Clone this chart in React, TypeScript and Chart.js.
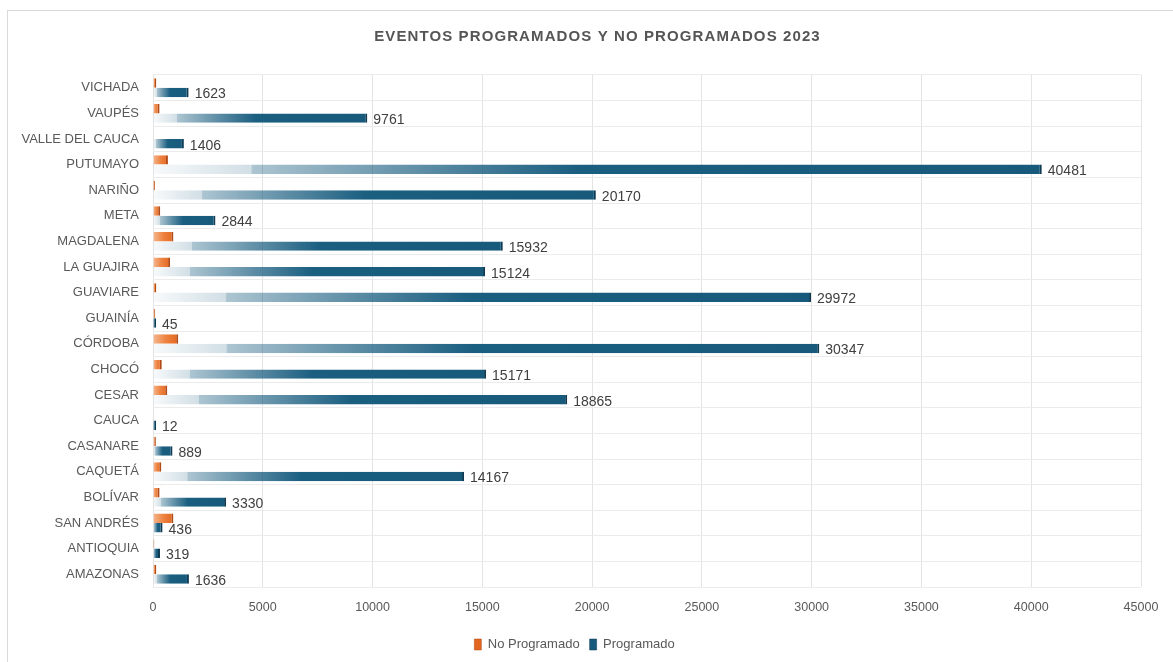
import React, { useEffect, useRef } from "react";
import { Chart, registerables } from "chart.js";

Chart.register(...registerables);

const chartTitle = "EVENTOS PROGRAMADOS Y NO PROGRAMADOS 2023";

const categories = [
  "VICHADA",
  "VAUPÉS",
  "VALLE DEL CAUCA",
  "PUTUMAYO",
  "NARIÑO",
  "META",
  "MAGDALENA",
  "LA GUAJIRA",
  "GUAVIARE",
  "GUAINÍA",
  "CÓRDOBA",
  "CHOCÓ",
  "CESAR",
  "CAUCA",
  "CASANARE",
  "CAQUETÁ",
  "BOLÍVAR",
  "SAN ANDRÉS",
  "ANTIOQUIA",
  "AMAZONAS",
];

const noProgramado = [150, 300, 0, 680, 90, 330, 930, 780, 150, 100, 1150, 400, 650, 0, 130, 380, 300, 930, 60, 150];

const programado = [1623, 9761, 1406, 40481, 20170, 2844, 15932, 15124, 29972, 45, 30347, 15171, 18865, 12, 889, 14167, 3330, 436, 319, 1636];

const xTicks = { min: 0, max: 45000, step: 5000 };

const FONT = "'Liberation Sans', Arial, sans-serif";
const GREY = "#595959";

function barGradient(ctx: any, stops: [number, string][]) {
  const chart = ctx.chart;
  const xScale = chart.scales && chart.scales.x;
  if (!xScale || !chart.chartArea || ctx.type !== "data") return stops[stops.length - 1][1];
  const v = ctx.parsed ? ctx.parsed.x : ctx.raw;
  const x0 = xScale.getPixelForValue(0);
  const x1 = xScale.getPixelForValue(v || 0);
  if (!isFinite(x0) || !isFinite(x1) || x1 - x0 < 2) return stops[stops.length - 1][1];
  const g = chart.ctx.createLinearGradient(x0, 0, x1, 0);
  stops.forEach(([o, c]) => g.addColorStop(o, c));
  return g;
}

const labelPlugin = {
  id: "valueLabels",
  afterDatasetsDraw(chart: any) {
    const ctx = chart.ctx;
    const meta = chart.getDatasetMeta(1);
    ctx.save();
    ctx.font = `14px ${FONT}`;
    ctx.fillStyle = "#404040";
    ctx.textAlign = "left";
    ctx.textBaseline = "middle";
    meta.data.forEach((el: any, i: number) => {
      const v = chart.data.datasets[1].data[i];
      ctx.fillText(String(v), el.x + 6, el.y + 2);
    });
    ctx.restore();
  },
};

const titlePlugin = {
  id: "spacedTitle",
  afterDraw(chart: any) {
    const ctx = chart.ctx;
    ctx.save();
    ctx.font = `bold 15px ${FONT}`;
    ctx.fillStyle = "#555555";
    ctx.textAlign = "center";
    ctx.textBaseline = "middle";
    try {
      (ctx as any).letterSpacing = "1.1px";
    } catch (e) {}
    ctx.fillText(chartTitle, chart.width / 2 + 7, 26);
    ctx.restore();
  },
};

export default function App() {
  const ref = useRef<HTMLCanvasElement | null>(null);

  useEffect(() => {
    if (!ref.current) return;
    const chart = new Chart(ref.current, {
      type: "bar",
      data: {
        labels: categories,
        datasets: [
          {
            label: "No Programado",
            data: noProgramado,
            backgroundColor: (c: any) =>
              barGradient(c, [
                [0, "#f6b890"],
                [0.5, "#ee8442"],
                [1, "#e2661f"],
              ]),
            borderColor: "#b04a16",
            borderWidth: { top: 0, bottom: 0, left: 0, right: 2 },
            borderSkipped: false,
            categoryPercentage: 0.74,
            barPercentage: 1.0,
          },
          {
            label: "Programado",
            data: programado,
            backgroundColor: (c: any) =>
              barGradient(c, [
                [0, "rgba(26,94,128,0.03)"],
                [0.11, "rgba(26,94,128,0.2)"],
                [0.112, "rgba(26,94,128,0.36)"],
                [0.3, "rgba(26,94,128,0.7)"],
                [0.48, "#1a5e80"],
                [1, "#175a7b"],
              ]),
            borderColor: "#0e3a52",
            borderWidth: { top: 0, bottom: 0, left: 0, right: 2 },
            borderSkipped: false,
            minBarLength: 3,
            categoryPercentage: 0.74,
            barPercentage: 1.0,
          },
        ],
      },
      options: {
        indexAxis: "y",
        responsive: false,
        animation: false,
        devicePixelRatio: 1,
        layout: { padding: { top: 64, right: 32, bottom: 1, left: 0 } },
        scales: {
          x: {
            min: xTicks.min,
            max: xTicks.max,
            ticks: {
              stepSize: xTicks.step,
              color: GREY,
              font: { family: FONT, size: 12.5 },
              padding: 13,
              callback: (v: any) => String(v),
            },
            grid: { color: "#e4e4e4", drawTicks: false },
            border: { display: false },
            afterFit: (s: any) => {
              s.height = 41;
            },
          },
          y: {
            ticks: {
              color: GREY,
              font: { family: FONT, size: 13 },
              padding: 14,
              autoSkip: false,
            },
            grid: { color: "#ebebeb", drawTicks: false, offset: true },
            border: { display: false },
            afterFit: (s: any) => {
              s.width = 145;
            },
          },
        },
        plugins: {
          title: { display: false },
          tooltip: { enabled: false },
          legend: {
            position: "bottom",
            labels: {
              color: GREY,
              font: { family: FONT, size: 13 },
              boxWidth: 7,
              boxHeight: 11,
              padding: 10,
            },
          },
        },
      },
      plugins: [labelPlugin, titlePlugin],
    } as any);
    return () => chart.destroy();
  }, []);

  return (
    <div
      style={{
        position: "fixed",
        left: 7,
        top: 10,
        width: 1165,
        height: 651,
        border: "1px solid #d9d9d9",
        background: "#ffffff",
      }}
    >
      <canvas ref={ref} width={1165} height={651} style={{ display: "block", width: 1165, height: 651 }} />
    </div>
  );
}
